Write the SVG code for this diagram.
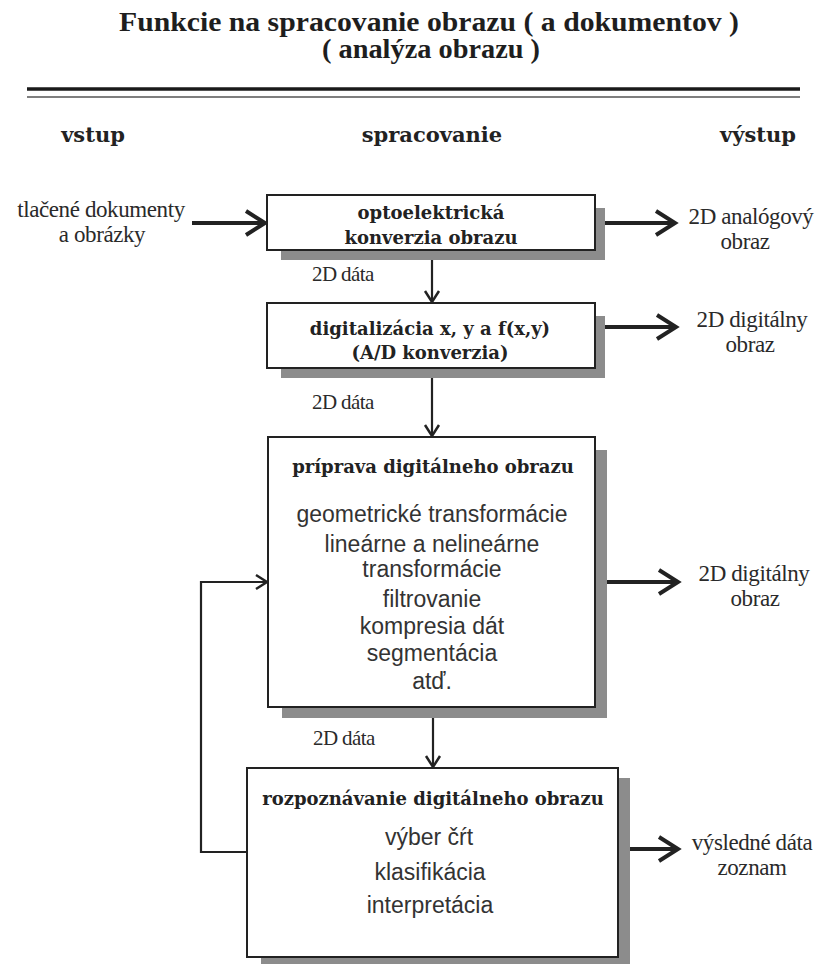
<svg xmlns="http://www.w3.org/2000/svg" width="827" height="964" viewBox="0 0 827 964">
<style>
.title{font-family:"Liberation Serif","Times New Roman",serif;font-weight:bold;font-size:27px;fill:#1e1e1e;text-anchor:middle}
.head{font-family:"DejaVu Serif",serif;font-weight:bold;font-size:21px;fill:#222;text-anchor:middle}
.bt{font-family:"DejaVu Serif",serif;font-weight:bold;font-size:18px;fill:#222;text-anchor:middle}
.lbl{font-family:"Liberation Serif","Times New Roman",serif;font-size:23px;fill:#2a2a2a;text-anchor:middle;letter-spacing:-0.4px}
.dd{font-family:"Liberation Serif","Times New Roman",serif;font-size:21px;fill:#2a2a2a;letter-spacing:-0.6px}
.sans{font-family:"Liberation Sans",Arial,sans-serif;font-size:23px;fill:#333;text-anchor:middle}
.box{fill:#fff;stroke:#222;stroke-width:2}
.shadow{fill:#8c8c8c}
.thick{fill:none;stroke:#222;stroke-width:4}
.thin{fill:none;stroke:#222;stroke-width:2.2}
</style>
<defs>
<marker id="big" markerUnits="userSpaceOnUse" viewBox="-24 -16 28 32" refX="0" refY="0" markerWidth="28" markerHeight="32" orient="auto">
<path d="M -19 -12 L 0 0 L -19 12" fill="none" stroke="#222" stroke-width="4"/>
</marker>
<marker id="small" markerUnits="userSpaceOnUse" viewBox="-14 -10 18 20" refX="0" refY="0" markerWidth="18" markerHeight="20" orient="auto">
<path d="M -11 -7 L 0 0 L -11 7" fill="none" stroke="#222" stroke-width="2.5"/>
</marker>
</defs>
<rect width="827" height="964" fill="#fff"/>

<g id="header">
<text class="title" x="429" y="31" textLength="620" lengthAdjust="spacingAndGlyphs">Funkcie na spracovanie obrazu ( a dokumentov )</text>
<text class="title" x="431" y="58" textLength="218" lengthAdjust="spacingAndGlyphs">( analýza obrazu )</text>
<line x1="27" y1="89" x2="800" y2="89" stroke="#1a1a1a" stroke-width="3.5"/>
<line x1="27" y1="97" x2="800" y2="97" stroke="#555" stroke-width="1.5"/>
<text class="head" x="93" y="142">vstup</text>
<text class="head" x="432" y="142">spracovanie</text>
<text class="head" x="758" y="142">výstup</text>
</g>

<g id="connectors">
<path class="thick" d="M 192 223 H 265" marker-end="url(#big)"/>
<path class="thick" d="M 605 223 H 675" marker-end="url(#big)"/>
<path class="thick" d="M 605 327 H 676" marker-end="url(#big)"/>
<path class="thick" d="M 607 582 H 678" marker-end="url(#big)"/>
<path class="thick" d="M 630 849 H 678" marker-end="url(#big)"/>
<path class="thin" d="M 432 250 V 302" marker-end="url(#small)"/>
<path class="thin" d="M 432 368 V 436" marker-end="url(#small)"/>
<path class="thin" d="M 433 707 V 767" marker-end="url(#small)"/>
<path class="thin" d="M 246 852 H 201 V 582 H 267" marker-end="url(#small)"/>
</g>

<g id="in-label">
<text class="lbl" x="101" y="217">tlačené dokumenty</text>
<text class="lbl" x="102" y="242">a obrázky</text>
</g>

<g id="box1">
<rect class="shadow" x="281" y="208" width="324" height="52"/>
<rect class="box" x="267" y="195" width="328" height="55"/>
<text class="bt" x="431" y="219">optoelektrická</text>
<text class="bt" x="431" y="244">konverzia obrazu</text>
</g>

<g id="out1">
<text class="lbl" x="751" y="224">2D analógový</text>
<text class="lbl" x="745" y="249">obraz</text>
</g>

<text class="dd" x="312" y="281">2D dáta</text>

<g id="box2">
<rect class="shadow" x="281" y="316" width="324" height="62"/>
<rect class="box" x="267" y="303" width="328" height="65"/>
<text class="bt" x="430" y="335">digitalizácia x, y a f(x,y)</text>
<text class="bt" x="430" y="359">(A/D konverzia)</text>
</g>

<g id="out2">
<text class="lbl" x="752" y="327">2D digitálny</text>
<text class="lbl" x="750" y="352">obraz</text>
</g>

<text class="dd" x="312" y="409">2D dáta</text>

<g id="box3">
<rect class="shadow" x="282" y="450" width="325" height="268"/>
<rect class="box" x="268" y="437" width="327" height="270"/>
<text class="bt" x="433" y="473">príprava digitálneho obrazu</text>
<text class="sans" x="432" y="522">geometrické transformácie</text>
<text class="sans" x="432" y="552">lineárne a nelineárne</text>
<text class="sans" x="432" y="577">transformácie</text>
<text class="sans" x="432" y="607">filtrovanie</text>
<text class="sans" x="432" y="634">kompresia dát</text>
<text class="sans" x="432" y="661">segmentácia</text>
<text class="sans" x="432" y="689">atď.</text>
</g>

<g id="out3">
<text class="lbl" x="754" y="581">2D digitálny</text>
<text class="lbl" x="755" y="606">obraz</text>
</g>

<text class="dd" x="313" y="745">2D dáta</text>

<g id="box4">
<rect class="shadow" x="261" y="778" width="369" height="189"/>
<rect class="box" x="247" y="768" width="371" height="189"/>
<text class="bt" x="433" y="805">rozpoznávanie digitálneho obrazu</text>
<text class="sans" x="429" y="845">výber čŕt</text>
<text class="sans" x="430" y="880">klasifikácia</text>
<text class="sans" x="430" y="913">interpretácia</text>
</g>

<g id="out4">
<text class="lbl" x="752" y="850">výsledné dáta</text>
<text class="lbl" x="752" y="875">zoznam</text>
</g>
</svg>
